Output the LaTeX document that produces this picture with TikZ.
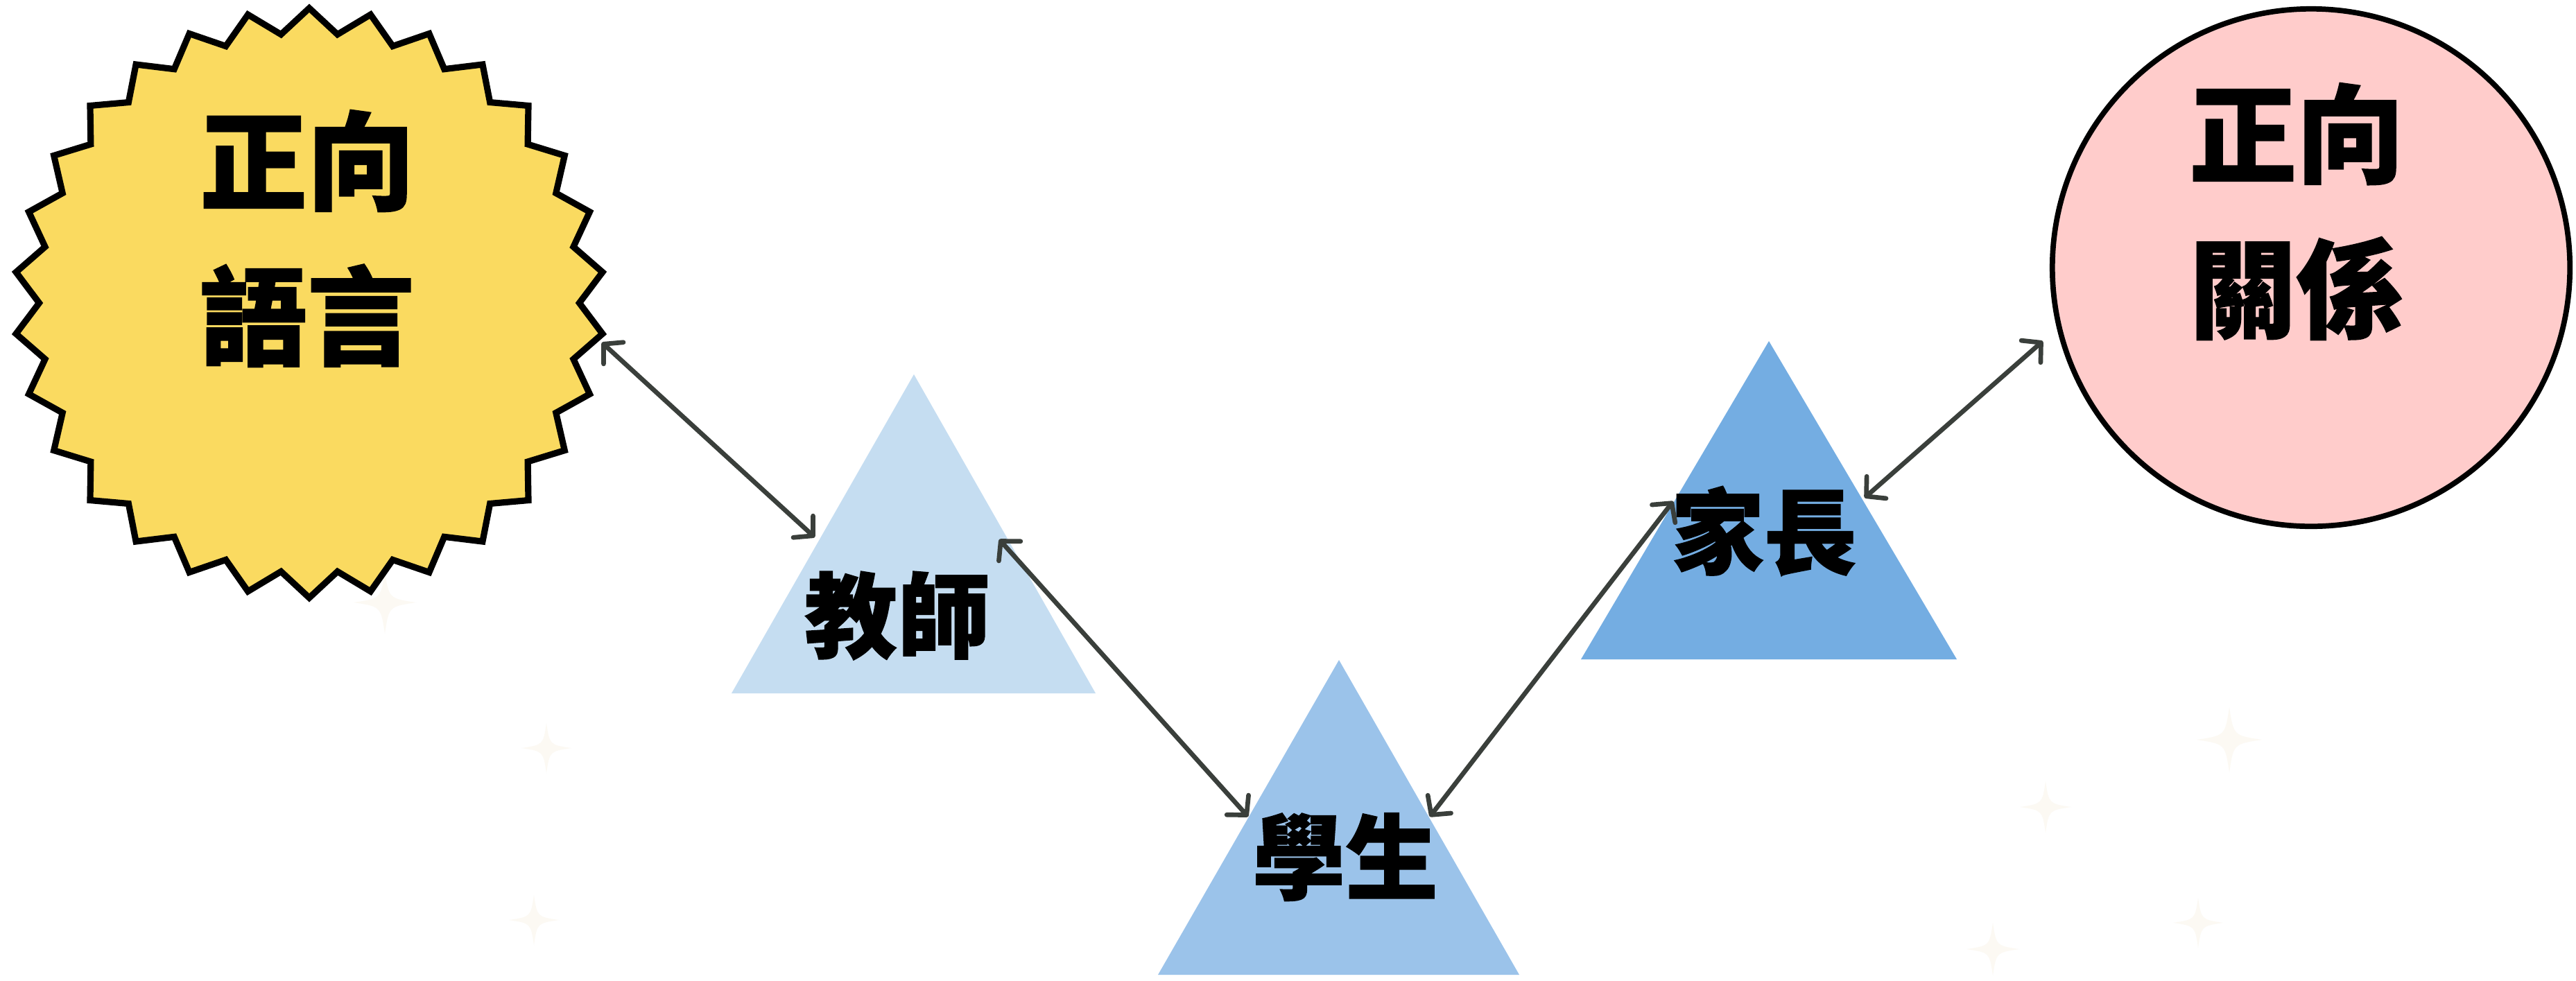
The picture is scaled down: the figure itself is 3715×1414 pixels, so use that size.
\documentclass[tikz,border=0pt]{standalone}
\usepackage{fontspec}
\newfontfamily\cjk{Noto Sans CJK TC}[BoldFeatures={FakeBold=1.2}]
\usetikzlibrary{shapes.geometric,arrows.meta}
\definecolor{starY}{RGB}{250,218,96}
\definecolor{relPink}{RGB}{255,204,203}
\definecolor{teacherC}{RGB}{197,221,241}
\definecolor{studentC}{RGB}{155,195,234}
\definecolor{parentC}{RGB}{116,173,226}
\definecolor{arrowgray}{RGB}{58,63,59}
\definecolor{sparkleC}{RGB}{252,249,243}
\tikzset{
  bigtxt/.style={font=\cjk\bfseries\fontsize{44pt}{63.7pt}\selectfont, align=center, inner sep=0pt, text=black},
  tritxt/.style={font=\cjk\bfseries\fontsize{38pt}{45pt}\selectfont, inner sep=0pt, text=black},
  arr/.style={draw=arrowgray, line width=1.9pt, line cap=round,
    {Straight Barb[length=5.5pt,width=12pt,round]}-{Straight Barb[length=5.5pt,width=12pt,round]}},
  sparkle/.style={fill=sparkleC},
}
\begin{document}
\begin{tikzpicture}[x=0.01cm,y=-0.01cm]
\useasboundingbox[fill=white] (0,0) rectangle (3715,1414);

% sparkles
\foreach \x/\y/\r in {555/869/45, 788/1079/36, 770/1327/36, 3215/1067/47, 2950/1164/37, 3170/1331/36, 2874/1369/38}{
  \fill[sparkle] (\x,{\y-\r}) .. controls ({\x+0.13*\r},{\y-0.13*\r}) .. ({\x+\r},\y)
    .. controls ({\x+0.13*\r},{\y+0.13*\r}) .. (\x,{\y+\r})
    .. controls ({\x-0.13*\r},{\y+0.13*\r}) .. ({\x-\r},\y)
    .. controls ({\x-0.13*\r},{\y-0.13*\r}) .. (\x,{\y-\r}) -- cycle;
}

% star
\node[star, star points=30, star point ratio=1.092, minimum size=8.5cm, inner sep=0pt,
      draw=black, line width=2.6pt, fill=starY] (lang) at (446,437) {};
\node[bigtxt] (langtxt) at (443,344) {正向\\語言};

% circle
\node[circle, draw=black, line width=2.2pt, fill=relPink, minimum size=7.46cm, inner sep=0pt] (rel) at (3333,386) {};
\node[bigtxt] (reltxt) at (3312,305) {正向\\關係};

% triangles
\coordinate (tA) at (1318,540); \coordinate (tL) at (1055,1000); \coordinate (tR) at (1580,1000);
\coordinate (sA) at (1931,952); \coordinate (sL) at (1670,1406); \coordinate (sR) at (2191,1406);
\coordinate (pA) at (2551,492); \coordinate (pL) at (2280,951); \coordinate (pR) at (2822,951);
\fill[teacherC] (tA) -- (tL) -- (tR) -- cycle;
\fill[studentC] (sA) -- (sL) -- (sR) -- cycle;
\fill[parentC] (pA) -- (pL) -- (pR) -- cycle;
\node[tritxt] (teacher) at (1294,888) {教師};
\node[tritxt] (student) at (1940,1236) {學生};
\node[tritxt] (parent) at (2544,766) {家長};

% arrow end points
\coordinate (e1a) at (868,494);   \coordinate (e1b) at (1175,775);
\coordinate (e2a) at (1441,778);  \coordinate (e2b) at (1800,1178);
\coordinate (e3a) at (2062,1178); \coordinate (e3b) at (2413,723);
\coordinate (e4a) at (2689,718);  \coordinate (e4b) at (2946,492);
\draw[arr] (e1a) -- (e1b);
\draw[arr] (e2a) -- (e2b);
\draw[arr] (e3a) -- (e3b);
\draw[arr] (e4a) -- (e4b);
\end{tikzpicture}
\end{document}
